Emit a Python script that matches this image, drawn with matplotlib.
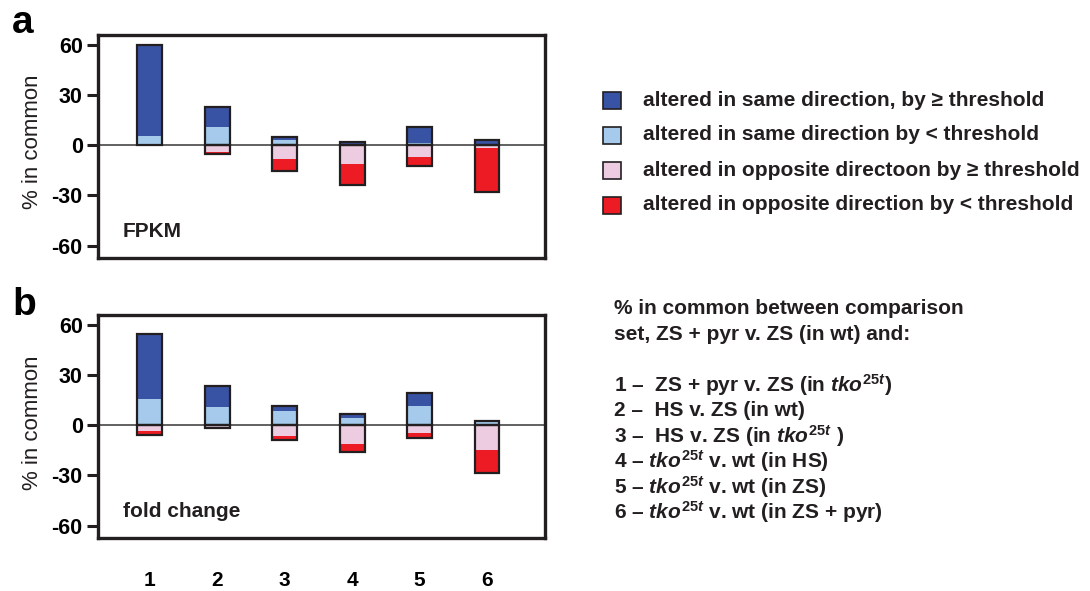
import numpy as np
import matplotlib.pyplot as plt
from matplotlib.patches import Rectangle

plt.rcParams['font.family'] = ['Liberation Sans', 'DejaVu Sans']
plt.rcParams['font.weight'] = 'bold'
plt.rcParams['mathtext.fontset'] = 'custom'
plt.rcParams['mathtext.rm'] = 'Liberation Sans:bold'
plt.rcParams['mathtext.it'] = 'Liberation Sans:bold:italic'
plt.rcParams['mathtext.bf'] = 'Liberation Sans:bold'

# comparisons 1..6
groups = [1, 2, 3, 4, 5, 6]

# panel a: FPKM
a_same_lt = [5.4, 11, 3.4, 0.6, 1.6, 0]       # same direction, < threshold
a_same_gt = [54.6, 12, 1.6, 1.4, 9.4, 3]      # same direction, >= threshold
a_opp_gt = [0, -4, -8.4, -11.4, -7, -1.5]     # opposite direction, >= threshold
a_opp_lt = [0, -1, -7, -12.2, -5.6, -26.5]    # opposite direction, < threshold

# panel b: fold change
b_same_lt = [15.5, 11, 8.5, 4.4, 11.5, 2.8]
b_same_gt = [39.2, 12.5, 2.8, 2.6, 7.8, 0]
b_opp_gt = [-3.6, -1.3, -6.6, -11.3, -4.8, -14.9]
b_opp_lt = [-2, 0, -1.9, -4.6, -2.6, -13.9]

yticks = [60, 30, 0, -30, -60]

legend_labels = ["altered in same direction, by \u2265 threshold",
                 "altered in same direction by < threshold",
                 "altered in opposite directoon by \u2265 threshold",
                 "altered in opposite direction by < threshold"]

key_lines = ["% in common between comparison",
             "set, ZS + pyr v. ZS (in wt) and:",
             "",
             "1 \u2013  ZS + pyr v. ZS (in $tko^{25t}$)",
             "2 \u2013  HS v. ZS (in wt)",
             "3 \u2013  HS v. ZS (in $tko^{25t}$ )",
             "4 \u2013 $tko^{25t}$ v. wt (in HS)",
             "5 \u2013 $tko^{25t}$ v. wt (in ZS)",
             "6 \u2013 $tko^{25t}$ v. wt (in ZS + pyr)"]

c_dark = '#3953a4'
c_light = '#a5caeb'
c_pink = '#edcce2'
c_red = '#ed1c24'
edge = '#231f20'

fig = plt.figure(figsize=(10.9, 5.91), dpi=100)
ax_a = fig.add_axes([98/1090, 1-258/591, 447/1090, 223/591])
ax_b = fig.add_axes([98/1090, 1-538/591, 447/1090, 223/591])

w = 0.37

def draw_panel(ax, lt, gt, ogt, olt, tag):
    x = np.array(groups)
    lt, gt, ogt, olt = map(np.array, (lt, gt, ogt, olt))
    ax.axhline(0, color='#555555', lw=1.3, zorder=1)
    ax.bar(x, lt, w, color=c_light, zorder=2)
    ax.bar(x, gt, w, bottom=lt, color=c_dark, zorder=2)
    ax.bar(x, ogt, w, color=c_pink, zorder=2)
    ax.bar(x, olt, w, bottom=ogt, color=c_red, zorder=2)
    # outlines around the positive and negative stacks
    neg = ogt + olt
    ax.bar(x, lt + gt, w, fill=False, edgecolor=edge, lw=1.6, zorder=3)
    ax.bar(x[neg < 0], neg[neg < 0], w, fill=False, edgecolor=edge, lw=1.6, zorder=3)
    ax.set_xlim(0.23, 6.86)
    ax.set_ylim(-67.4, 66)
    ax.set_yticks(yticks)
    ax.set_yticklabels([str(v) for v in yticks], fontsize=15.5, fontweight='bold')
    ax.tick_params(axis='y', length=8, width=2.2, color=edge, pad=3)
    for s in ax.spines.values():
        s.set_linewidth(2.4)
        s.set_color(edge)
    ax.text(0.056, 0.12, tag, transform=ax.transAxes, fontsize=15,
            fontweight='bold', color=edge, va='center')

draw_panel(ax_a, a_same_lt, a_same_gt, a_opp_gt, a_opp_lt, "FPKM")
draw_panel(ax_b, b_same_lt, b_same_gt, b_opp_gt, b_opp_lt, "fold change")

# y labels sit a little above the axes centre
fig.text(33/1090, 1-142/591, "% in common", rotation=90, fontsize=16,
         fontweight='normal', color=edge, ha='center', va='center')
fig.text(33/1090, 1-423/591, "% in common", rotation=90, fontsize=16,
         fontweight='normal', color=edge, ha='center', va='center')

ax_a.set_xticks([])
ax_b.set_xticks(groups)
ax_b.set_xticklabels([str(g) for g in groups], fontsize=15, fontweight='bold')
ax_b.tick_params(axis='x', length=0, pad=24)

fig.text(12/1090, 1-33/591, "a", fontsize=28, fontweight='bold', va='baseline')
fig.text(12/1090, 1-315/591, "b", fontsize=28, fontweight='bold', va='baseline')

# legend
leg_cols = [c_dark, c_light, c_pink, c_red]
leg_y = [100, 135, 170, 205]
for col, lab, yy in zip(leg_cols, legend_labels, leg_y):
    fig.add_artist(Rectangle((603/1090, 1-(yy+9)/591), 18/1090, 17/591,
                             facecolor=col, edgecolor=edge, lw=1.2,
                             transform=fig.transFigure))
    fig.text(643/1090, 1-yy/591, lab, fontsize=15, fontweight='bold',
             color=edge, va='center')

# key text
for i, line in enumerate(key_lines):
    if line:
        fig.text(614/1090, 1-(309 + 25.4*i)/591, line, fontsize=15,
                 fontweight='bold', color=edge, va='center')

fig.savefig('out.png', dpi=100)
